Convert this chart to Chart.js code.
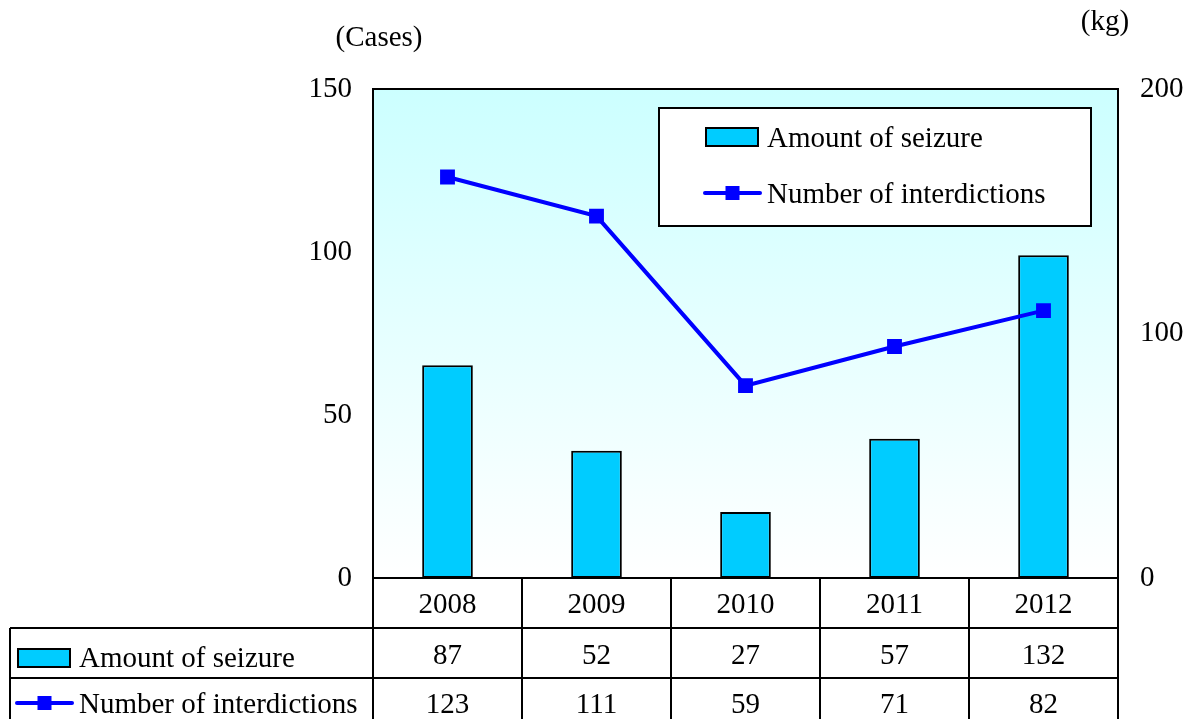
<!DOCTYPE html>
<html>
<head>
<meta charset="utf-8">
<script src="https://cdn.jsdelivr.net/npm/chart.js@4"></script>
<style>
  html, body { margin: 0; padding: 0; background: #fff; }
  #wrap { width: 1193px; height: 719px; }
</style>
</head>
<body>
<div id="wrap"><canvas id="seizureChart" width="1193" height="719"></canvas></div>
<script>
const YEARS = ["2008", "2009", "2010", "2011", "2012"];
const SEIZURE_KG = [87, 52, 27, 57, 132];
const INTERDICTIONS = [123, 111, 59, 71, 82];
const CASES_TICKS = [0, 50, 100, 150];
const KG_TICKS = [0, 100, 200];

const FONT = "'Liberation Serif', 'Times New Roman', serif";
const FONT_SIZE = 29;
const BAR_COLOR = "#00ccff";
const LINE_COLOR = "#0000ff";

//============================
// helpers
//============================

function drawBarIcon(ctx, x, y, w, h) {
  ctx.fillStyle = BAR_COLOR;
  ctx.fillRect(x, y, w, h);
  ctx.strokeStyle = "#000";
  ctx.lineWidth = 2;
  ctx.strokeRect(x, y, w, h);
}

function drawLineIcon(ctx, x, y, w) {
  ctx.strokeStyle = LINE_COLOR;
  ctx.lineWidth = 4;
  ctx.lineCap = "round";
  ctx.beginPath();
  ctx.moveTo(x, y);
  ctx.lineTo(x + w, y);
  ctx.stroke();
  ctx.fillStyle = LINE_COLOR;
  ctx.fillRect(x + w / 2 - 7, y - 7, 14, 14);
}

// light cyan fade behind the plot
const backgroundPlugin = {
  id: "plotBackground",
  beforeDraw(chart) {
    const { ctx, chartArea: a } = chart;
    const g = ctx.createLinearGradient(0, a.top, 0, a.bottom);
    g.addColorStop(0, "#ccffff");
    g.addColorStop(1, "#ffffff");
    ctx.save();
    ctx.fillStyle = g;
    ctx.fillRect(a.left, a.top, a.right - a.left, a.bottom - a.top);
    ctx.restore();
  },
};

// frame, legend box, unit labels and the data table
const tablePlugin = {
  id: "dataTable",
  afterDraw(chart) {
    const { ctx, chartArea: a } = chart;
    const xs = chart.scales.x;
    const n = YEARS.length;
    const step = (a.right - a.left) / n;
    const rowTop = [a.bottom, 628, 678];
    const tableBottom = 719;

    ctx.save();
    ctx.strokeStyle = "#000";
    ctx.lineWidth = 2;
    ctx.strokeRect(a.left, a.top, a.right - a.left, a.bottom - a.top);

    // table grid
    ctx.beginPath();
    for (let i = 0; i <= n; i++) {
      const x = a.left + i * step;
      ctx.moveTo(x, a.bottom);
      ctx.lineTo(x, tableBottom);
    }
    ctx.moveTo(10, rowTop[1]);
    ctx.lineTo(a.right, rowTop[1]);
    ctx.moveTo(10, rowTop[2]);
    ctx.lineTo(a.right, rowTop[2]);
    ctx.moveTo(10, rowTop[1]);
    ctx.lineTo(10, tableBottom);
    ctx.stroke();

    // table texts
    ctx.fillStyle = "#000";
    ctx.font = FONT_SIZE + "px " + FONT;
    ctx.textAlign = "center";
    ctx.textBaseline = "middle";
    for (let i = 0; i < n; i++) {
      const cx = xs.getPixelForValue(i);
      ctx.fillText(YEARS[i], cx, 605);
      ctx.fillText(String(SEIZURE_KG[i]), cx, 656);
      ctx.fillText(String(INTERDICTIONS[i]), cx, 705);
    }

    // row headers
    ctx.textAlign = "left";
    drawBarIcon(ctx, 18, 649, 52, 18);
    ctx.fillStyle = "#000";
    ctx.fillText("Amount of seizure", 79, 659);
    drawLineIcon(ctx, 17, 703, 55);
    ctx.fillStyle = "#000";
    ctx.fillText("Number of interdictions", 79, 705);

    // legend box
    ctx.fillStyle = "#fff";
    ctx.fillRect(659, 108, 432, 118);
    ctx.strokeStyle = "#000";
    ctx.lineWidth = 2;
    ctx.strokeRect(659, 108, 432, 118);
    drawBarIcon(ctx, 706, 128, 52, 18);
    ctx.fillStyle = "#000";
    ctx.fillText("Amount of seizure", 767, 139);
    drawLineIcon(ctx, 705, 193, 55);
    ctx.fillStyle = "#000";
    ctx.fillText("Number of interdictions", 767, 195);

    // unit labels
    ctx.textAlign = "center";
    ctx.fillText("(Cases)", 379, 38);
    ctx.fillText("(kg)", 1105, 22);
    ctx.restore();
  },
};

const config = {
  data: {
    labels: YEARS,
    datasets: [
      {
        type: "line",
        label: "Number of interdictions",
        data: INTERDICTIONS,
        yAxisID: "y",
        borderColor: LINE_COLOR,
        backgroundColor: LINE_COLOR,
        borderWidth: 4,
        pointStyle: "rect",
        pointRadius: 10.5,
        pointBorderWidth: 0,
        order: 0,
      },
      {
        type: "bar",
        label: "Amount of seizure",
        data: SEIZURE_KG,
        yAxisID: "y1",
        backgroundColor: BAR_COLOR,
        borderColor: "#000",
        borderWidth: 2,
        borderSkipped: false,
        barPercentage: 0.34,
        categoryPercentage: 1,
        order: 1,
      },
    ],
  },
  options: {
    responsive: false,
    animation: false,
    layout: { padding: { top: 89, bottom: 141, left: 0, right: 0 } },
    plugins: { legend: { display: false }, tooltip: { enabled: false } },
    scales: {
      x: {
        display: false,
        offset: true,
      },
      y: {
        position: "left",
        min: 0,
        max: 150,
        afterBuildTicks(axis) {
          axis.ticks = CASES_TICKS.map((v) => ({ value: v }));
        },
        afterFit(axis) {
          axis.width = 373;
        },
        grid: { display: false, drawTicks: false },
        border: { display: false },
        ticks: {
          padding: 21,
          color: "#000",
          font: { family: FONT, size: FONT_SIZE },
        },
      },
      y1: {
        position: "right",
        min: 0,
        max: 200,
        afterBuildTicks(axis) {
          axis.ticks = KG_TICKS.map((v) => ({ value: v }));
        },
        afterFit(axis) {
          axis.width = 75;
        },
        grid: { display: false, drawTicks: false },
        border: { display: false },
        ticks: {
          padding: 22,
          color: "#000",
          font: { family: FONT, size: FONT_SIZE },
        },
      },
    },
  },
  plugins: [backgroundPlugin, tablePlugin],
};

new Chart(document.getElementById("seizureChart"), config);
</script>
</body>
</html>
